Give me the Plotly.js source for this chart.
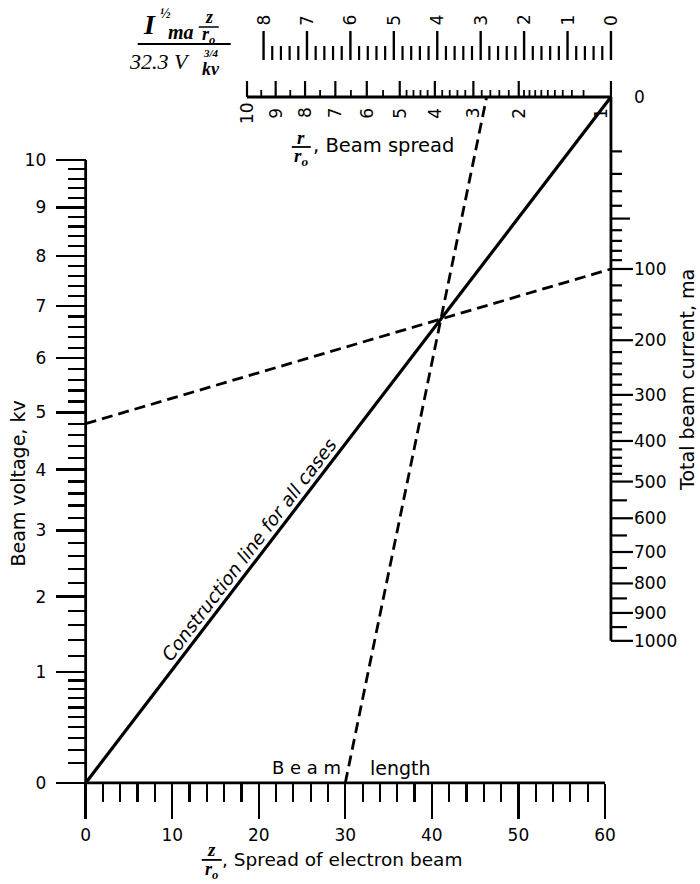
<!DOCTYPE html>
<html><head><meta charset="utf-8">
<script src="https://cdn.plot.ly/plotly-3.0.1.min.js"></script>
<style>body{margin:0;background:#fff}</style>
</head><body><div id="chart" style="width:700px;height:884px"></div>
<script>
// ---------------- values ----------------
const spreadTicks = [0, 10, 20, 30, 40, 50, 60];                 // z/r0
const spreadMinor = [2,4,6,8,12,14,16,18,22,24,26,28,32,34,36,38,42,44,46,48,52,54,56,58];
const voltTicks = [0,1,2,3,4,5,6,7,8,9,10];                      // kv
const voltMinor = [0.1,0.2,0.3,0.4,0.5,0.6,0.7,0.8,0.9,
  1.2,1.4,1.6,1.8,2.2,2.4,2.6,2.8,3.2,3.4,3.6,3.8,4.2,4.4,4.6,4.8,5.2,5.4,5.6,5.8,
  6.2,6.4,6.6,6.8,7.2,7.4,7.6,7.8,8.2,8.4,8.6,8.8,9.2,9.4,9.6,9.8];
const currentTicks = [0,100,200,300,400,500,600,700,800,900,1000]; // ma
const currentMedium = [50];
const currentMinorShort = [10,20,30,40,60,70,80,90,120,140,160,180,220,240,260,280,320,340,360,380,420,440,460,480];
const currentMinorLong = [550,650,750,850,950];
const paramTicks = [0,1,2,3,4,5,6,7,8];                          // I^1/2 z/r0 / 32.3 V^3/4
const paramMinor = [0.2,0.4,0.6,0.8,1.2,1.4,1.6,1.8,2.2,2.4,2.6,2.8,3.2,3.4,3.6,3.8,
  4.2,4.4,4.6,4.8,5.2,5.4,5.6,5.8,6.2,6.4,6.6,6.8,7.2,7.4,7.6,7.8];
const beamSpreadTicks = [1,2,3,4,5,6,7,8,9,10];                  // r/r0
const beamSpreadMinor = [1.1,1.2,1.3,1.4,1.5,1.6,1.7,1.8,1.9,2.2,2.4,2.6,2.8,3.2,3.4,3.6,3.8,
  4.2,4.4,4.6,4.8,5.5,6.5,7.5,8.5,9.5];
// worked example drawn on the chart
const exampleVoltage = 4.8;     // kv
const exampleCurrent = 100;     // ma
const exampleLength = 30;       // z/r0

// ---------------- geometry of the sheet ----------------
const PX_Z = 8.65, PX_V = 110.79;
const X0PX = 86, Y0PX = 783;
const XPAD = 1, YPAD = 0.1;
const ML = X0PX - XPAD * PX_Z, MR = 8, MT = 4, MB = 884 - Y0PX - YPAD * PX_V;
const W = 700 - ML - MR, H = 884 - MT - MB;
const xr = [-XPAD, -XPAD + W / PX_Z], yr = [-YPAD, -YPAD + H / PX_V];
const px2x = p => (p - X0PX) / PX_Z, px2y = p => (Y0PX - p) / PX_V;
const dx = p => p / PX_Z, dy = p => p / PX_V;
const XR = px2x(611), TOPY = px2y(97);

// scales
const vPos = v => Math.pow(v, 0.75);
const K_I = dy(17.2);
const iPos = I => TOPY - K_I * Math.sqrt(I);
const K_P = dx(43.4);
const pPos = p => XR - K_P * p;
function G(R) { // integral of exp(u^2) from 0 to sqrt(ln R)
  const a = Math.sqrt(Math.log(R)); if (a === 0) return 0;
  const n = 200, h = a / n; let s = 1 + Math.exp(a * a);
  for (let k = 1; k < n; k++) { const u = k * h; s += (k % 2 ? 4 : 2) * Math.exp(u * u); }
  return s * h / 3;
}
const rPos = R => pPos(1.98 * G(R));

// ---------------- traces ----------------
const BL = '#000';
const traces = [];
function addLine(x, y, w, dash) {
  traces.push({type: 'scatter', mode: 'lines', x: x, y: y, hoverinfo: 'skip', showlegend: false,
    line: {color: BL, width: w, dash: dash || 'solid'}});
}
function hTicks(vals, pos, x0, lenPx, w) {
  const x = [], y = [];
  vals.forEach(v => { const yy = pos(v); x.push(x0, x0 + dx(lenPx), null); y.push(yy, yy, null); });
  addLine(x, y, w);
}
function vTicks(vals, pos, y0px, y1px, w) {
  const x = [], y = [];
  vals.forEach(v => { const xx = pos(v); x.push(xx, xx, null); y.push(px2y(y0px), px2y(y1px), null); });
  addLine(x, y, w);
}
// axis lines
addLine([0, 60], [0, 0], 2.8);
addLine([0, 0], [0, vPos(10)], 2.8);
addLine([XR, XR], [iPos(0), iPos(1000)], 2.8);
addLine([rPos(10), XR], [TOPY, TOPY], 2.8);
// right scale ticks
hTicks(currentTicks.filter(v => v > 0), iPos, XR, 22, 2.2);
hTicks(currentMedium, iPos, XR, 19, 2.2);
hTicks(currentMinorShort, iPos, XR, 11, 2.2);
hTicks(currentMinorLong, iPos, XR, 16, 2.2);
// beam spread ticks (up from baseline)
vTicks(beamSpreadTicks, rPos, 97, 81, 2.2);
vTicks(beamSpreadMinor, rPos, 97, 90, 1.8);
// top parameter scale
vTicks(paramTicks, pPos, 60, 31, 2.4);
vTicks(paramMinor, pPos, 60, 46, 2.2);

// construction lines
addLine([0, XR], [0, TOPY], 3.2);
const ya = vPos(exampleVoltage), yb = iPos(exampleCurrent);
addLine([0, XR], [ya, yb], 2.8, '11px,6px');
const sC = TOPY / XR, sA = (yb - ya) / XR;
const xi = ya / (sC - sA), yi = sC * xi;
const sB = yi / (xi - exampleLength);
const xTop = exampleLength + TOPY / sB;
addLine([exampleLength, xTop], [0, TOPY], 2.8, '11px,6px');

// ---------------- annotations ----------------
const SANS = 'DejaVu Sans', SERIF = 'Liberation Serif';
const anns = [];
const sans = s => ({family: SANS, size: s, color: BL});
const serifB = s => ({family: SERIF, size: s, color: BL});
function ann(x, y, text, o) {   // anchored in data space (scale labels)
  anns.push(Object.assign({x: x, y: y, xref: 'x', yref: 'y', text: text, showarrow: false,
    xanchor: 'center', yanchor: 'middle', font: sans(17)}, o || {}));
}
function annP(px, py, text, o) { // titles placed on the sheet (paper space)
  anns.push(Object.assign({x: (px - ML) / W, y: (884 - MB - py) / H, xref: 'paper', yref: 'paper',
    text: text, showarrow: false, xanchor: 'center', yanchor: 'middle', font: sans(18)}, o || {}));
}
currentTicks.forEach(v => ann(XR, iPos(v), String(v), {xanchor: 'left', xshift: 21}));
paramTicks.forEach(v => ann(pPos(v), px2y(20), String(v), {textangle: -90}));
beamSpreadTicks.forEach(v => ann(rPos(v), px2y(113), String(v), {textangle: -90, xshift: v === 1 ? -10 : 0}));

// axis titles
annP(18, 484, 'Beam voltage, kv', {textangle: -90, font: sans(19)});
annP(687, 380, 'Total beam current, ma', {textangle: -90, font: sans(19)});
// construction line label
const angle = -Math.atan((TOPY * PX_V) / (XR * PX_Z)) * 180 / Math.PI;
ann(20, 20 * sC, '<i>Construction line for all cases</i>', {textangle: angle, xshift: -9.5, yshift: 7.5, font: sans(18.5)});
annP(307, 768, 'B e a m', {font: sans(18)});
annP(401, 768, 'length', {font: sans(19)});

// bottom title
annP(212, 850, '<b><i>z</i></b>', {font: serifB(19)});
annP(212, 871, '<b><i>r<sub>o</sub></i></b>', {font: serifB(18)});
annP(220, 860, ', Spread of electron beam', {xanchor: 'left', font: sans(18.5)});
// beam spread title
annP(301, 138, '<b><i>r</i></b>', {font: serifB(19)});
annP(301, 157, '<b><i>r<sub>o</sub></i></b>', {font: serifB(19)});
annP(311, 146, ', Beam spread', {xanchor: 'left', font: sans(19.5)});
// top-left formula
annP(150, 25, '<b><i>I</i></b>', {font: serifB(28)});
annP(166, 14, '<b><i>½</i></b>', {font: serifB(14)});
annP(181, 32, '<b><i>ma</i></b>', {font: serifB(20)});
annP(209, 17, '<b><i>z</i></b>', {font: serifB(18)});
annP(209, 36, '<b><i>r<sub>o</sub></i></b>', {font: serifB(18)});
annP(160, 62, '<i>32.3 V</i>', {font: {family: SERIF, size: 22, color: BL}});
annP(211, 53, '<b><i>3/4</i></b>', {font: serifB(11)});
annP(211, 69, '<b><i>kv</i></b>', {font: serifB(18)});

const lineP = (x0, x1, y, w) => ({type: 'line', xref: 'paper', yref: 'paper',
  x0: (x0 - ML) / W, x1: (x1 - ML) / W, y0: (884 - MB - y) / H, y1: (884 - MB - y) / H, line: {color: BL, width: w}});
const shapes = [lineP(138, 231, 44, 2), lineP(199, 219, 27, 1.5), lineP(292, 311, 147, 1.8), lineP(202, 222, 860, 1.8)];

const axisCommon = {showgrid: false, zeroline: false, showline: false, anchor: 'free', automargin: false,
  fixedrange: true, ticks: 'outside', tickcolor: BL, tickwidth: 2.4, tickmode: 'array',
  tickfont: sans(17)};
const layout = {
  width: 700, height: 884, margin: {l: ML, r: MR, t: MT, b: MB, pad: 0},
  paper_bgcolor: '#fff', plot_bgcolor: '#fff', showlegend: false,
  font: sans(16),
  xaxis: Object.assign({}, axisCommon, {range: xr, position: YPAD * PX_V / H,
    tickvals: spreadTicks, ticktext: spreadTicks.map(String), ticklen: 35, ticklabelstandoff: 2,
    minor: {tickmode: 'array', tickvals: spreadMinor, ticks: 'outside', ticklen: 18, tickwidth: 2.2, tickcolor: BL, showgrid: false}}),
  yaxis: Object.assign({}, axisCommon, {range: yr, position: XPAD * PX_Z / W,
    tickvals: voltTicks.map(vPos), ticktext: voltTicks.map(String), ticklen: 30, ticklabelstandoff: 6,
    minor: {tickmode: 'array', tickvals: voltMinor.map(vPos), ticks: 'outside', ticklen: 18, tickwidth: 2.2, tickcolor: BL, showgrid: false}}),
  annotations: anns, shapes: shapes
};
Plotly.newPlot('chart', traces, layout, {staticPlot: true, displayModeBar: false});
</script></body></html>
